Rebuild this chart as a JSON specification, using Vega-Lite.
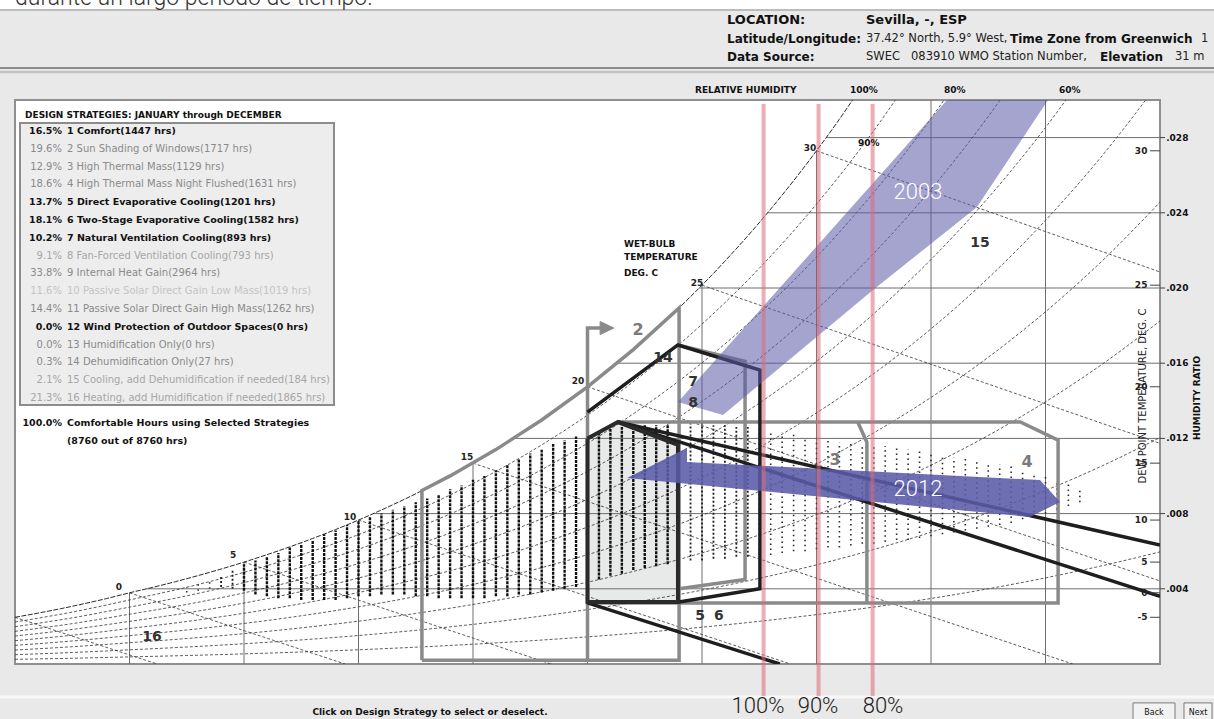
{
"$schema":"https://vega.github.io/schema/vega-lite/v6.json",
"width":1145,"height":564,"autosize":"none",
"padding":{"left":15,"top":100,"right":54,"bottom":55},
"background":"#e9e9e9",
"view":{"fill":"#ffffff","stroke":"#8f8f8f","strokeWidth":2},
"config":{"text":{"font":"DejaVu Sans"}},
"datasets":{
"vgrid":[{"T":0,"w0":0,"w1":0.003787},{"T":5,"w0":0,"w1":0.00542},{"T":10,"w0":0,"w1":0.007656},{"T":15,"w0":0,"w1":0.010684},{"T":20,"w0":0,"w1":0.014745},{"T":25,"w0":0,"w1":0.02015},{"T":30,"w0":0,"w1":0.027298},{"T":35,"w0":0,"w1":0.03},{"T":40,"w0":0,"w1":0.03}],
"hgrid":[{"w":0.004,"T0":0.745},{"w":0.008,"T0":10.64},{"w":0.012,"T0":16.78},{"w":0.016,"T0":21.3},{"w":0.02,"T0":24.88},{"w":0.024,"T0":27.86},{"w":0.028,"T0":30.42}],
"yticks":[{"w":0.004,"lab":".004"},{"w":0.008,"lab":".008"},{"w":0.012,"lab":".012"},{"w":0.016,"lab":".016"},{"w":0.02,"lab":".020"},{"w":0.024,"lab":".024"},{"w":0.028,"lab":".028"}],
"sat":[{"T":-5,"w":0.002484},{"T":-4,"w":0.002706},{"T":-3,"w":0.002943},{"T":-2,"w":0.003202},{"T":-1,"w":0.003482},{"T":0,"w":0.003787},{"T":1,"w":0.004073},{"T":2,"w":0.004378},{"T":3,"w":0.004704},{"T":4,"w":0.005051},{"T":5,"w":0.00542},{"T":6,"w":0.005814},{"T":7,"w":0.006233},{"T":8,"w":0.006678},{"T":9,"w":0.007152},{"T":10,"w":0.007656},{"T":11,"w":0.008191},{"T":12,"w":0.008759},{"T":13,"w":0.009364},{"T":14,"w":0.010004},{"T":15,"w":0.010684},{"T":16,"w":0.011404},{"T":17,"w":0.012168},{"T":18,"w":0.012978},{"T":19,"w":0.013837},{"T":20,"w":0.014745},{"T":21,"w":0.015708},{"T":22,"w":0.016726},{"T":23,"w":0.017804},{"T":24,"w":0.018944},{"T":25,"w":0.02015},{"T":26,"w":0.021426},{"T":27,"w":0.022774},{"T":28,"w":0.024199},{"T":29,"w":0.025706},{"T":30,"w":0.027298},{"T":31,"w":0.028979},{"T":31.575,"w":0.03}],
"rh":[
{"rh":90,"T":-5,"w":0.002234},{"rh":90,"T":-2.5,"w":0.002762},{"rh":90,"T":0,"w":0.003406},{"rh":90,"T":2.5,"w":0.004082},{"rh":90,"T":5,"w":0.004874},{"rh":90,"T":7.5,"w":0.005801},{"rh":90,"T":10,"w":0.006882},{"rh":90,"T":12.5,"w":0.008139},{"rh":90,"T":15,"w":0.009599},{"rh":90,"T":17.5,"w":0.011288},{"rh":90,"T":20,"w":0.013239},{"rh":90,"T":22.5,"w":0.015488},{"rh":90,"T":25,"w":0.018077},{"rh":90,"T":27.5,"w":0.021049},{"rh":90,"T":30,"w":0.024461},{"rh":90,"T":32.5,"w":0.028366},{"rh":90,"T":35,"w":0.032841},
{"rh":80,"T":-5,"w":0.001985},{"rh":80,"T":-2.5,"w":0.002454},{"rh":80,"T":0,"w":0.003026},{"rh":80,"T":2.5,"w":0.003626},{"rh":80,"T":5,"w":0.004329},{"rh":80,"T":7.5,"w":0.005151},{"rh":80,"T":10,"w":0.006109},{"rh":80,"T":12.5,"w":0.007224},{"rh":80,"T":15,"w":0.008518},{"rh":80,"T":17.5,"w":0.010013},{"rh":80,"T":20,"w":0.011741},{"rh":80,"T":22.5,"w":0.013729},{"rh":80,"T":25,"w":0.016016},{"rh":80,"T":27.5,"w":0.01864},{"rh":80,"T":30,"w":0.021648},{"rh":80,"T":32.5,"w":0.025088},{"rh":80,"T":35,"w":0.029021},{"rh":80,"T":37.5,"w":0.033511},
{"rh":70,"T":-5,"w":0.001737},{"rh":70,"T":-2.5,"w":0.002146},{"rh":70,"T":0,"w":0.002646},{"rh":70,"T":2.5,"w":0.00317},{"rh":70,"T":5,"w":0.003784},{"rh":70,"T":7.5,"w":0.004502},{"rh":70,"T":10,"w":0.005339},{"rh":70,"T":12.5,"w":0.006312},{"rh":70,"T":15,"w":0.00744},{"rh":70,"T":17.5,"w":0.008744},{"rh":70,"T":20,"w":0.010249},{"rh":70,"T":22.5,"w":0.01198},{"rh":70,"T":25,"w":0.013969},{"rh":70,"T":27.5,"w":0.016249},{"rh":70,"T":30,"w":0.01886},{"rh":70,"T":32.5,"w":0.021841},{"rh":70,"T":35,"w":0.025246},{"rh":70,"T":37.5,"w":0.029126},{"rh":70,"T":40,"w":0.033548},
{"rh":60,"T":-5,"w":0.001488},{"rh":60,"T":-2.5,"w":0.001838},{"rh":60,"T":0,"w":0.002267},{"rh":60,"T":2.5,"w":0.002715},{"rh":60,"T":5,"w":0.003241},{"rh":60,"T":7.5,"w":0.003855},{"rh":60,"T":10,"w":0.004571},{"rh":60,"T":12.5,"w":0.005402},{"rh":60,"T":15,"w":0.006366},{"rh":60,"T":17.5,"w":0.00748},{"rh":60,"T":20,"w":0.008764},{"rh":60,"T":22.5,"w":0.01024},{"rh":60,"T":25,"w":0.011935},{"rh":60,"T":27.5,"w":0.013876},{"rh":60,"T":30,"w":0.016096},{"rh":60,"T":32.5,"w":0.018628},{"rh":60,"T":35,"w":0.021515},{"rh":60,"T":37.5,"w":0.024799},{"rh":60,"T":40,"w":0.028535},{"rh":60,"T":42.5,"w":0.032775},
{"rh":50,"T":-5,"w":0.001239},{"rh":50,"T":-2.5,"w":0.001531},{"rh":50,"T":0,"w":0.001888},{"rh":50,"T":2.5,"w":0.002261},{"rh":50,"T":5,"w":0.002698},{"rh":50,"T":7.5,"w":0.003209},{"rh":50,"T":10,"w":0.003804},{"rh":50,"T":12.5,"w":0.004496},{"rh":50,"T":15,"w":0.005296},{"rh":50,"T":17.5,"w":0.006221},{"rh":50,"T":20,"w":0.007286},{"rh":50,"T":22.5,"w":0.00851},{"rh":50,"T":25,"w":0.009914},{"rh":50,"T":27.5,"w":0.01152},{"rh":50,"T":30,"w":0.013356},{"rh":50,"T":32.5,"w":0.015446},{"rh":50,"T":35,"w":0.017827},{"rh":50,"T":37.5,"w":0.02053},{"rh":50,"T":40,"w":0.023599},{"rh":50,"T":42.5,"w":0.027075},{"rh":50,"T":45,"w":0.031013},
{"rh":40,"T":-5,"w":0.000991},{"rh":40,"T":-2.5,"w":0.001224},{"rh":40,"T":0,"w":0.001509},{"rh":40,"T":2.5,"w":0.001808},{"rh":40,"T":5,"w":0.002157},{"rh":40,"T":7.5,"w":0.002565},{"rh":40,"T":10,"w":0.00304},{"rh":40,"T":12.5,"w":0.003591},{"rh":40,"T":15,"w":0.00423},{"rh":40,"T":17.5,"w":0.004967},{"rh":40,"T":20,"w":0.005815},{"rh":40,"T":22.5,"w":0.00679},{"rh":40,"T":25,"w":0.007906},{"rh":40,"T":27.5,"w":0.009182},{"rh":40,"T":30,"w":0.010639},{"rh":40,"T":32.5,"w":0.012296},{"rh":40,"T":35,"w":0.01418},{"rh":40,"T":37.5,"w":0.016316},{"rh":40,"T":40,"w":0.018737},{"rh":40,"T":42.5,"w":0.021473},{"rh":40,"T":45,"w":0.024565},
{"rh":30,"T":-5,"w":0.000743},{"rh":30,"T":-2.5,"w":0.000918},{"rh":30,"T":0,"w":0.001131},{"rh":30,"T":2.5,"w":0.001355},{"rh":30,"T":5,"w":0.001616},{"rh":30,"T":7.5,"w":0.001922},{"rh":30,"T":10,"w":0.002277},{"rh":30,"T":12.5,"w":0.00269},{"rh":30,"T":15,"w":0.003167},{"rh":30,"T":17.5,"w":0.003718},{"rh":30,"T":20,"w":0.004351},{"rh":30,"T":22.5,"w":0.005078},{"rh":30,"T":25,"w":0.005911},{"rh":30,"T":27.5,"w":0.006861},{"rh":30,"T":30,"w":0.007945},{"rh":30,"T":32.5,"w":0.009176},{"rh":30,"T":35,"w":0.010575},{"rh":30,"T":37.5,"w":0.012157},{"rh":30,"T":40,"w":0.013948},{"rh":30,"T":42.5,"w":0.015967},{"rh":30,"T":45,"w":0.018244},
{"rh":20,"T":-5,"w":0.000495},{"rh":20,"T":-2.5,"w":0.000612},{"rh":20,"T":0,"w":0.000754},{"rh":20,"T":2.5,"w":0.000903},{"rh":20,"T":5,"w":0.001077},{"rh":20,"T":7.5,"w":0.00128},{"rh":20,"T":10,"w":0.001516},{"rh":20,"T":12.5,"w":0.001791},{"rh":20,"T":15,"w":0.002108},{"rh":20,"T":17.5,"w":0.002473},{"rh":20,"T":20,"w":0.002894},{"rh":20,"T":22.5,"w":0.003376},{"rh":20,"T":25,"w":0.003928},{"rh":20,"T":27.5,"w":0.004557},{"rh":20,"T":30,"w":0.005274},{"rh":20,"T":32.5,"w":0.006088},{"rh":20,"T":35,"w":0.00701},{"rh":20,"T":37.5,"w":0.008052},{"rh":20,"T":40,"w":0.009229},{"rh":20,"T":42.5,"w":0.010554},{"rh":20,"T":45,"w":0.012045},
{"rh":10,"T":-5,"w":0.000248},{"rh":10,"T":-2.5,"w":0.000306},{"rh":10,"T":0,"w":0.000377},{"rh":10,"T":2.5,"w":0.000451},{"rh":10,"T":5,"w":0.000538},{"rh":10,"T":7.5,"w":0.000639},{"rh":10,"T":10,"w":0.000757},{"rh":10,"T":12.5,"w":0.000894},{"rh":10,"T":15,"w":0.001052},{"rh":10,"T":17.5,"w":0.001234},{"rh":10,"T":20,"w":0.001444},{"rh":10,"T":22.5,"w":0.001684},{"rh":10,"T":25,"w":0.001958},{"rh":10,"T":27.5,"w":0.00227},{"rh":10,"T":30,"w":0.002626},{"rh":10,"T":32.5,"w":0.003029},{"rh":10,"T":35,"w":0.003485},{"rh":10,"T":37.5,"w":0.004},{"rh":10,"T":40,"w":0.004581},{"rh":10,"T":42.5,"w":0.005233},{"rh":10,"T":45,"w":0.005965}],
"wb":[{"twb":-5,"T":-5,"w":0.002484},{"twb":-5,"T":1.2,"w":0},{"twb":0,"T":0,"w":0.003787},{"twb":0,"T":9.41,"w":0},{"twb":5,"T":5,"w":0.00542},{"twb":5,"T":18.41,"w":0},{"twb":10,"T":10,"w":0.007656},{"twb":10,"T":28.86,"w":0},{"twb":15,"T":15,"w":0.010684},{"twb":15,"T":41.19,"w":0},{"twb":20,"T":20,"w":0.014745},{"twb":20,"T":45,"w":0.004415},{"twb":25,"T":25,"w":0.02015},{"twb":25,"T":45,"w":0.011735},{"twb":30,"T":30,"w":0.027298},{"twb":30,"T":45,"w":0.020852}],
"cols":[
{"T":2.5,"lo":0.0038,"hi":0.0041,"d":"s"},{"T":3,"lo":0.0039,"hi":0.0043,"d":"s"},{"T":3.5,"lo":0.004,"hi":0.0045,"d":"s"},{"T":4,"lo":0.0041,"hi":0.0047,"d":"m"},{"T":4.5,"lo":0.004,"hi":0.005,"d":"m"},
{"T":5,"lo":0.0039,"hi":0.0053,"d":"d"},{"T":5.5,"lo":0.0037,"hi":0.0055,"d":"d"},{"T":6,"lo":0.0036,"hi":0.0057,"d":"d"},{"T":6.5,"lo":0.0035,"hi":0.0059,"d":"d"},{"T":7,"lo":0.0035,"hi":0.0062,"d":"d"},{"T":7.5,"lo":0.0034,"hi":0.0064,"d":"d"},{"T":8,"lo":0.0034,"hi":0.0066,"d":"d"},{"T":8.5,"lo":0.0034,"hi":0.0069,"d":"d"},{"T":9,"lo":0.0034,"hi":0.0071,"d":"d"},{"T":9.5,"lo":0.0035,"hi":0.0074,"d":"d"},{"T":10,"lo":0.0036,"hi":0.0076,"d":"d"},{"T":10.5,"lo":0.0036,"hi":0.0078,"d":"d"},{"T":11,"lo":0.0037,"hi":0.008,"d":"d"},{"T":11.5,"lo":0.0037,"hi":0.0082,"d":"d"},{"T":12,"lo":0.0037,"hi":0.0084,"d":"d"},{"T":12.5,"lo":0.0036,"hi":0.0086,"d":"d"},{"T":13,"lo":0.0036,"hi":0.0088,"d":"d"},{"T":13.5,"lo":0.0035,"hi":0.009,"d":"d"},{"T":14,"lo":0.0035,"hi":0.0093,"d":"d"},{"T":14.5,"lo":0.0035,"hi":0.0095,"d":"d"},{"T":15,"lo":0.0035,"hi":0.0098,"d":"d"},{"T":15.5,"lo":0.0035,"hi":0.01,"d":"d"},{"T":16,"lo":0.0036,"hi":0.0103,"d":"d"},{"T":16.5,"lo":0.0036,"hi":0.0106,"d":"d"},{"T":17,"lo":0.0037,"hi":0.0109,"d":"d"},{"T":17.5,"lo":0.0037,"hi":0.0112,"d":"d"},{"T":18,"lo":0.0038,"hi":0.0114,"d":"d"},{"T":18.5,"lo":0.0039,"hi":0.0117,"d":"d"},{"T":19,"lo":0.004,"hi":0.0119,"d":"d"},{"T":19.5,"lo":0.0041,"hi":0.0121,"d":"d"},{"T":20,"lo":0.0043,"hi":0.0123,"d":"d"},{"T":20.5,"lo":0.0045,"hi":0.0124,"d":"d"},{"T":21,"lo":0.0047,"hi":0.0125,"d":"d"},{"T":21.5,"lo":0.0048,"hi":0.0126,"d":"d"},{"T":22,"lo":0.005,"hi":0.0126,"d":"d"},{"T":22.5,"lo":0.0051,"hi":0.0127,"d":"d"},{"T":23,"lo":0.0052,"hi":0.0127,"d":"d"},{"T":23.5,"lo":0.0053,"hi":0.0127,"d":"d"},
{"T":24,"lo":0.0054,"hi":0.0127,"d":"m"},{"T":24.5,"lo":0.0055,"hi":0.0128,"d":"m"},{"T":25,"lo":0.0055,"hi":0.0128,"d":"m"},{"T":25.5,"lo":0.0056,"hi":0.0127,"d":"m"},{"T":26,"lo":0.0056,"hi":0.0127,"d":"m"},{"T":26.5,"lo":0.0057,"hi":0.0126,"d":"m"},{"T":27,"lo":0.0057,"hi":0.0126,"d":"m"},
{"T":27.5,"lo":0.0058,"hi":0.0125,"d":"s"},{"T":28,"lo":0.0058,"hi":0.0124,"d":"s"},{"T":28.5,"lo":0.0059,"hi":0.0123,"d":"s"},{"T":29,"lo":0.006,"hi":0.0122,"d":"s"},{"T":29.5,"lo":0.006,"hi":0.0121,"d":"s"},{"T":30,"lo":0.0061,"hi":0.012,"d":"s"},{"T":30.5,"lo":0.0062,"hi":0.0119,"d":"s"},{"T":31,"lo":0.0062,"hi":0.0118,"d":"s"},{"T":31.5,"lo":0.0063,"hi":0.0118,"d":"s"},{"T":32,"lo":0.0064,"hi":0.0117,"d":"s"},{"T":32.5,"lo":0.0064,"hi":0.0116,"d":"s"},{"T":33,"lo":0.0065,"hi":0.0116,"d":"s"},{"T":33.5,"lo":0.0066,"hi":0.0115,"d":"s"},{"T":34,"lo":0.0066,"hi":0.0114,"d":"s"},{"T":34.5,"lo":0.0067,"hi":0.0113,"d":"s"},{"T":35,"lo":0.0068,"hi":0.0112,"d":"s"},{"T":35.5,"lo":0.0069,"hi":0.0111,"d":"s"},{"T":36,"lo":0.007,"hi":0.011,"d":"s"},{"T":36.5,"lo":0.0071,"hi":0.0109,"d":"s"},{"T":37,"lo":0.0072,"hi":0.0108,"d":"s"},{"T":37.5,"lo":0.0073,"hi":0.0107,"d":"s"},{"T":38,"lo":0.0074,"hi":0.0106,"d":"s"},{"T":38.5,"lo":0.0075,"hi":0.0105,"d":"s"},{"T":39,"lo":0.0077,"hi":0.0103,"d":"s"},{"T":39.5,"lo":0.0078,"hi":0.0102,"d":"s"},{"T":40,"lo":0.008,"hi":0.01,"d":"s"},{"T":40.5,"lo":0.0082,"hi":0.0098,"d":"s"},{"T":41,"lo":0.0084,"hi":0.0096,"d":"s"},{"T":41.5,"lo":0.0086,"hi":0.0094,"d":"s"}],
"comfort":[{"i":0,"T":20,"w":0.012},{"i":1,"T":21.33,"w":0.01287},{"i":2,"T":23.95,"w":0.01165},{"i":3,"T":23.95,"w":0.0033},{"i":4,"T":20,"w":0.0033},{"i":5,"T":20,"w":0.012}],
"zgray":[
{"z":"z9","i":0,"T":12.77,"w":0.0002},{"z":"z9","i":1,"T":12.77,"w":0.009225},{"z":"z9","i":2,"T":14,"w":0.010004},{"z":"z9","i":3,"T":16,"w":0.011404},{"z":"z9","i":4,"T":18,"w":0.012978},{"z":"z9","i":5,"T":20,"w":0.014745},{"z":"z9","i":6,"T":22,"w":0.016726},{"z":"z9","i":7,"T":24,"w":0.018944},{"z":"z9","i":8,"T":24,"w":0.0002},{"z":"z9","i":9,"T":12.77,"w":0.0002},
{"z":"z2","i":0,"T":20,"w":0.0002},{"z":"z2","i":1,"T":20,"w":0.01787},{"z":"z2","i":2,"T":20.7,"w":0.01787},
{"z":"z4","i":0,"T":21.33,"w":0.01287},{"z":"z4","i":1,"T":38.9,"w":0.01287},{"z":"z4","i":2,"T":40.55,"w":0.01191},{"z":"z4","i":3,"T":40.55,"w":0.00325},{"z":"z4","i":4,"T":20,"w":0.00325},
{"z":"z3","i":0,"T":31.8,"w":0.01287},{"z":"z3","i":1,"T":32.2,"w":0.0118},{"z":"z3","i":2,"T":32.2,"w":0.00325},
{"z":"z8","i":0,"T":23.95,"w":0.01697},{"z":"z8","i":1,"T":26.88,"w":0.0161},{"z":"z8","i":2,"T":26.88,"w":0.0045},{"z":"z8","i":3,"T":24,"w":0.004}],
"arrow":[{"i":0,"T":20.55,"w":0.01822},{"i":1,"T":21.15,"w":0.01787},{"i":2,"T":20.55,"w":0.01752},{"i":3,"T":20.55,"w":0.01822}],
"zblack":[
{"z":"z7","i":0,"T":20,"w":0.0134},{"z":"z7","i":1,"T":23.95,"w":0.01697},{"z":"z7","i":2,"T":27.53,"w":0.01564},{"z":"z7","i":3,"T":27.53,"w":0.004},{"z":"z7","i":4,"T":24,"w":0.0033},
{"z":"e5","i":0,"T":21.33,"w":0.01287},{"z":"e5","i":1,"T":45,"w":0.00633},
{"z":"e6","i":0,"T":21.33,"w":0.01287},{"z":"e6","i":1,"T":45,"w":0.0036},
{"z":"e0","i":0,"T":20,"w":0.00325},{"z":"e0","i":1,"T":28.4,"w":0}],
"blue":[
{"yr":"2003","i":0,"T":23.952,"w":0.013936},{"yr":"2003","i":1,"T":35.699,"w":0.03},{"yr":"2003","i":2,"T":40.109,"w":0.03},{"yr":"2003","i":3,"T":37.009,"w":0.024308},{"yr":"2003","i":4,"T":32.467,"w":0.019893},{"yr":"2003","i":5,"T":25.917,"w":0.013245},
{"yr":"2012","i":0,"T":21.725,"w":0.009894},{"yr":"2012","i":1,"T":24.345,"w":0.011489},{"yr":"2012","i":2,"T":24.345,"w":0.010745},{"yr":"2012","i":3,"T":39.76,"w":0.009787},{"yr":"2012","i":4,"T":40.633,"w":0.008617},{"yr":"2012","i":5,"T":39.323,"w":0.007819}],
"red":[{"p":"100%","T":27.69},{"p":"90%","T":30.09},{"p":"80%","T":32.45}],
"dew":[{"td":"30","w":0.027298},{"td":"25","w":0.02015},{"td":"20","w":0.014745},{"td":"15","w":0.010684},{"td":"10","w":0.007656},{"td":"5","w":0.00542},{"td":"0","w":0.003787},{"td":"-5","w":0.002484}],
"legend":[
{"n":1,"pct":"16.5%","t":"1 Comfort(1447 hrs)","tone":"on","w":0.028351},
{"n":2,"pct":"19.6%","t":"2 Sun Shading of Windows(1717 hrs)","tone":"dim","w":0.027404},
{"n":3,"pct":"12.9%","t":"3 High Thermal Mass(1129 hrs)","tone":"dim","w":0.026458},
{"n":4,"pct":"18.6%","t":"4 High Thermal Mass Night Flushed(1631 hrs)","tone":"dim","w":0.025511},
{"n":5,"pct":"13.7%","t":"5 Direct Evaporative Cooling(1201 hrs)","tone":"on","w":0.024564},
{"n":6,"pct":"18.1%","t":"6 Two-Stage Evaporative Cooling(1582 hrs)","tone":"on","w":0.023617},
{"n":7,"pct":"10.2%","t":"7 Natural Ventilation Cooling(893 hrs)","tone":"on","w":0.02267},
{"n":8,"pct":"9.1%","t":"8 Fan-Forced Ventilation Cooling(793 hrs)","tone":"mid","w":0.021723},
{"n":9,"pct":"33.8%","t":"9 Internal Heat Gain(2964 hrs)","tone":"dim","w":0.020777},
{"n":10,"pct":"11.6%","t":"10 Passive Solar Direct Gain Low Mass(1019 hrs)","tone":"faint","w":0.01983},
{"n":11,"pct":"14.4%","t":"11 Passive Solar Direct Gain High Mass(1262 hrs)","tone":"dim","w":0.018883},
{"n":12,"pct":"0.0%","t":"12 Wind Protection of Outdoor Spaces(0 hrs)","tone":"on","w":0.017936},
{"n":13,"pct":"0.0%","t":"13 Humidification Only(0 hrs)","tone":"dim","w":0.016989},
{"n":14,"pct":"0.3%","t":"14 Dehumidification Only(27 hrs)","tone":"dim","w":0.016043},
{"n":15,"pct":"2.1%","t":"15 Cooling, add Dehumidification if needed(184 hrs)","tone":"mid","w":0.015096},
{"n":16,"pct":"21.3%","t":"16 Heating, add Humidification if needed(1865 hrs)","tone":"mid","w":0.014149},
{"n":17,"pct":"100.0%","t":"Comfortable Hours using Selected Strategies","tone":"on2","w":0.012819},
{"n":18,"pct":"","t":"(8760 out of 8760 hrs)","tone":"on2","w":0.011862}],
"labels":[
{"g":"top","T":-5,"w":0.03505,"t":"durante un largo período de tiempo."},
{"g":"hdrL","T":26.092,"w":0.034255,"t":"LOCATION:"},
{"g":"hdrL","T":32.162,"w":0.034255,"t":"Sevilla, -, ESP"},
{"g":"hdrB","T":26.092,"w":0.033244,"t":"Latitude/Longitude:"},
{"g":"hdrB","T":38.45,"w":0.033244,"t":"Time Zone from Greenwich"},
{"g":"hdrB","T":26.092,"w":0.032287,"t":"Data Source:"},
{"g":"hdrB","T":42.38,"w":0.032287,"t":"Elevation"},
{"g":"hdrN","T":32.162,"w":0.033244,"t":"37.42° North, 5.9° West,"},
{"g":"hdrN","T":46.79,"w":0.033244,"t":"1"},
{"g":"hdrN","T":32.162,"w":0.032287,"t":"SWEC"},
{"g":"hdrN","T":34.127,"w":0.032287,"t":"083910 WMO Station Number,"},
{"g":"hdrN","T":45.655,"w":0.032287,"t":"31 m"},
{"g":"small","T":24.694,"w":0.030532,"t":"RELATIVE HUMIDITY"},
{"g":"small","T":31.463,"w":0.030532,"t":"100%"},
{"g":"small","T":35.568,"w":0.030532,"t":"80%"},
{"g":"small","T":40.59,"w":0.030532,"t":"60%"},
{"g":"small","T":21.594,"w":0.02234,"t":"WET-BULB"},
{"g":"small","T":21.594,"w":0.021649,"t":"TEMPERATURE"},
{"g":"small","T":21.594,"w":0.020798,"t":"DEG. C"},
{"g":"small","T":31.812,"w":0.027713,"t":"90%"},
{"g":"small","T":-4.563,"w":0.029202,"t":"DESIGN STRATEGIES:  JANUARY through DECEMBER"},
{"g":"wbn","T":-0.459,"w":0.004096,"t":"0"},
{"g":"wbn","T":4.52,"w":0.005798,"t":"5"},
{"g":"wbn","T":9.629,"w":0.007819,"t":"10"},
{"g":"wbn","T":14.738,"w":0.011011,"t":"15"},
{"g":"wbn","T":19.585,"w":0.015053,"t":"20"},
{"g":"wbn","T":24.782,"w":0.020266,"t":"25"},
{"g":"wbn","T":29.716,"w":0.027447,"t":"30"},
{"g":"zgray","T":22.205,"w":0.017766,"t":"2"},
{"g":"zgray","T":30.808,"w":0.010851,"t":"3"},
{"g":"zgray","T":39.192,"w":0.010745,"t":"4"},
{"g":"zdark","T":23.297,"w":0.016277,"t":"14"},
{"g":"zdark","T":24.607,"w":0.015,"t":"7"},
{"g":"zdark","T":24.607,"w":0.013883,"t":"8"},
{"g":"zdark","T":37.14,"w":0.022394,"t":"15"},
{"g":"zdark","T":0.983,"w":0.001436,"t":"16"},
{"g":"zdark","T":24.913,"w":0.002553,"t":"5"},
{"g":"zdark","T":25.742,"w":0.002553,"t":"6"},
{"g":"redlab","T":27.445,"w":-0.002234,"t":"100%"},
{"g":"redlab","T":30.066,"w":-0.002234,"t":"90%"},
{"g":"redlab","T":32.904,"w":-0.002234,"t":"80%"},
{"g":"white","T":34.432,"w":0.025106,"t":"2003"},
{"g":"white","T":34.432,"w":0.009309,"t":"2012"},
{"g":"foot","T":13.122,"w":-0.002553,"t":"Click on Design Strategy to select or deselect."},
{"g":"btn","T":44.738,"w":-0.002606,"t":"Back"},
{"g":"btn","T":46.66,"w":-0.002606,"t":"Next"},
{"g":"dewt","T":44.258,"w":0.014255,"t":"DEW POINT TEMPERATURE, DEG. C"},
{"g":"hr","T":46.616,"w":0.014149,"t":"HUMIDITY RATIO"}],
"buttons":[{"b":"Back","T0":43.821,"T1":45.655},{"b":"Next","T0":46.048,"T1":47.271}],
"hrules":[{"k":"a","w":0.034787},{"k":"b","w":0.031702},{"k":"c","w":0.03149},{"k":"d","w":-0.001755}]
},
"layer":[
{"data":{"name":"vgrid"},"mark":{"type":"rule","stroke":"#6e6e6e","strokeWidth":1},
 "encoding":{
  "x":{"field":"T","type":"quantitative","scale":{"domain":[-5,45]},"axis":{"values":[-5,0,5,10,15,20,25,30,35,40,45],"ticks":false,"domain":false,"grid":false,"labelFont":"DejaVu Sans","labelFontSize":9,"labelFontWeight":"bold","labelColor":"#111","labelPadding":4,"labelFlush":false,"title":"DRY-BULB TEMPERATURE, DEG. C","titleFont":"DejaVu Sans","titleFontSize":9,"titleFontWeight":"bold","titleColor":"#111","titlePadding":5}},
  "y":{"field":"w0","type":"quantitative","scale":{"domain":[0,0.03]},"axis":null},
  "y2":{"field":"w1"}}},
{"data":{"values":[{"T0":-6,"T1":48,"w0":0.03475,"w1":0.036}]},"mark":{"type":"rect","fill":"#ffffff"},
 "encoding":{"x":{"field":"T0","type":"quantitative","scale":{"domain":[-5,45]},"axis":null},"x2":{"field":"T1"},"y":{"field":"w0","type":"quantitative","scale":{"domain":[0,0.03]},"axis":null},"y2":{"field":"w1"}}},
{"data":{"name":"hrules"},"mark":{"type":"rule"},
 "encoding":{"x":{"datum":-6,"type":"quantitative","scale":{"domain":[-5,45]},"axis":null},"x2":{"datum":48},"y":{"field":"w","type":"quantitative","scale":{"domain":[0,0.03]},"axis":null},
  "color":{"field":"k","type":"nominal","scale":{"domain":["a","b","c","d"],"range":["#a6a6a6","#8a8a8a","#c4c4c4","#f8f8f8"]},"legend":null},
  "size":{"field":"k","type":"ordinal","scale":{"domain":["a","b","c","d"],"range":[1.5,3,1.5,2]},"legend":null}}},
{"data":{"values":[{"T0":-4.782,"T1":8.93,"w0":0.013777,"w1":0.028776}]},"mark":{"type":"rect","fill":"#ededed","stroke":"#8c8c8c","strokeWidth":2},
 "encoding":{"x":{"field":"T0","type":"quantitative","scale":{"domain":[-5,45]},"axis":null},"x2":{"field":"T1"},"y":{"field":"w0","type":"quantitative","scale":{"domain":[0,0.03]},"axis":null},"y2":{"field":"w1"}}},
{"data":{"name":"comfort"},"mark":{"type":"line","fill":"#e8e9e9","strokeOpacity":0},
 "encoding":{"x":{"field":"T","type":"quantitative","scale":{"domain":[-5,45]},"axis":null},"y":{"field":"w","type":"quantitative","scale":{"domain":[0,0.03]},"axis":null},"order":{"field":"i","type":"quantitative"}}},
{"data":{"name":"hgrid"},"mark":{"type":"rule","stroke":"#6e6e6e","strokeWidth":1},
 "encoding":{"x":{"field":"T0","type":"quantitative","scale":{"domain":[-5,45]},"axis":null},"x2":{"datum":45},"y":{"field":"w","type":"quantitative","scale":{"domain":[0,0.03]},"axis":null}}},
{"data":{"name":"rh"},"mark":{"type":"line","stroke":"#333333","strokeWidth":0.8,"strokeDash":[3,2],"interpolate":"monotone","clip":true},
 "encoding":{"x":{"field":"T","type":"quantitative","scale":{"domain":[-5,45]},"axis":null},"y":{"field":"w","type":"quantitative","scale":{"domain":[0,0.03]},"axis":null},"detail":{"field":"rh","type":"nominal"}}},
{"data":{"name":"sat"},"mark":{"type":"line","stroke":"#2a2a2a","strokeWidth":1,"strokeDash":[5,1.5],"interpolate":"monotone","clip":true},
 "encoding":{"x":{"field":"T","type":"quantitative","scale":{"domain":[-5,45]},"axis":null},"y":{"field":"w","type":"quantitative","scale":{"domain":[0,0.03]},"axis":null}}},
{"data":{"name":"wb"},"mark":{"type":"line","stroke":"#333333","strokeWidth":0.8,"strokeDash":[3,2],"clip":true},
 "encoding":{"x":{"field":"T","type":"quantitative","scale":{"domain":[-5,45]},"axis":null},"y":{"field":"w","type":"quantitative","scale":{"domain":[0,0.03]},"axis":null},"detail":{"field":"twb","type":"nominal"}}},
{"data":{"name":"cols"},"transform":[{"filter":"datum.d==='d'"}],"mark":{"type":"rule","stroke":"#111111","strokeWidth":2.4,"strokeDash":[3,1]},
 "encoding":{"x":{"field":"T","type":"quantitative","scale":{"domain":[-5,45]},"axis":null},"y":{"field":"lo","type":"quantitative","scale":{"domain":[0,0.03]},"axis":null},"y2":{"field":"hi"}}},
{"data":{"name":"cols"},"transform":[{"filter":"datum.d==='m'"}],"mark":{"type":"rule","stroke":"#202020","strokeWidth":1.8,"strokeDash":[2,2]},
 "encoding":{"x":{"field":"T","type":"quantitative","scale":{"domain":[-5,45]},"axis":null},"y":{"field":"lo","type":"quantitative","scale":{"domain":[0,0.03]},"axis":null},"y2":{"field":"hi"}}},
{"data":{"name":"cols"},"transform":[{"filter":"datum.d==='s'"}],"mark":{"type":"rule","stroke":"#2a2a2a","strokeWidth":1.6,"strokeDash":[1.5,3.5]},
 "encoding":{"x":{"field":"T","type":"quantitative","scale":{"domain":[-5,45]},"axis":null},"y":{"field":"lo","type":"quantitative","scale":{"domain":[0,0.03]},"axis":null},"y2":{"field":"hi"}}},
{"data":{"name":"zgray"},"mark":{"type":"line","stroke":"#8a8a8a","strokeWidth":3.5,"clip":true},
 "encoding":{"x":{"field":"T","type":"quantitative","scale":{"domain":[-5,45]},"axis":null},"y":{"field":"w","type":"quantitative","scale":{"domain":[0,0.03]},"axis":null},"detail":{"field":"z","type":"nominal"},"order":{"field":"i","type":"quantitative"}}},
{"data":{"name":"arrow"},"mark":{"type":"line","fill":"#8a8a8a","stroke":"#8a8a8a","strokeWidth":1},
 "encoding":{"x":{"field":"T","type":"quantitative","scale":{"domain":[-5,45]},"axis":null},"y":{"field":"w","type":"quantitative","scale":{"domain":[0,0.03]},"axis":null},"order":{"field":"i","type":"quantitative"}}},
{"data":{"name":"zblack"},"mark":{"type":"line","stroke":"#1e1e1e","strokeWidth":3.5,"clip":true},
 "encoding":{"x":{"field":"T","type":"quantitative","scale":{"domain":[-5,45]},"axis":null},"y":{"field":"w","type":"quantitative","scale":{"domain":[0,0.03]},"axis":null},"detail":{"field":"z","type":"nominal"},"order":{"field":"i","type":"quantitative"}}},
{"data":{"name":"comfort"},"mark":{"type":"line","stroke":"#2a2a2a","strokeWidth":4},
 "encoding":{"x":{"field":"T","type":"quantitative","scale":{"domain":[-5,45]},"axis":null},"y":{"field":"w","type":"quantitative","scale":{"domain":[0,0.03]},"axis":null},"order":{"field":"i","type":"quantitative"}}},
{"data":{"name":"blue"},"mark":{"type":"line","fill":"#5a5aa8","strokeOpacity":0,"clip":true},
 "encoding":{"x":{"field":"T","type":"quantitative","scale":{"domain":[-5,45]},"axis":null},"y":{"field":"w","type":"quantitative","scale":{"domain":[0,0.03]},"axis":null},"detail":{"field":"yr","type":"nominal"},"order":{"field":"i","type":"quantitative"},
  "fillOpacity":{"field":"yr","type":"nominal","scale":{"domain":["2003","2012"],"range":[0.55,0.88]},"legend":null}}},
{"data":{"name":"red"},"mark":{"type":"rule","stroke":"#e06a74","strokeOpacity":0.55,"strokeWidth":4},
 "encoding":{"x":{"field":"T","type":"quantitative","scale":{"domain":[-5,45]},"axis":null},"y":{"datum":0.029787,"type":"quantitative","scale":{"domain":[0,0.03]},"axis":null},"y2":{"datum":-0.001702}}},
{"data":{"name":"dew"},"mark":{"type":"rule","stroke":"#444","strokeWidth":1},
 "encoding":{"x":{"datum":44.56,"type":"quantitative","scale":{"domain":[-5,45]},"axis":null},"x2":{"datum":45},"y":{"field":"w","type":"quantitative","scale":{"domain":[0,0.03]},"axis":null}}},
{"data":{"name":"dew"},"mark":{"type":"text","align":"right","baseline":"middle","fontSize":9,"fontWeight":"bold","color":"#222"},
 "encoding":{"x":{"datum":44.45,"type":"quantitative","scale":{"domain":[-5,45]},"axis":null},"y":{"field":"w","type":"quantitative","scale":{"domain":[0,0.03]},"axis":null},"text":{"field":"td"}}},
{"data":{"name":"yticks"},"mark":{"type":"rule","stroke":"#444","strokeWidth":1},
 "encoding":{"x":{"datum":45,"type":"quantitative","scale":{"domain":[-5,45]},"axis":null},"x2":{"datum":45.22},"y":{"field":"w","type":"quantitative","scale":{"domain":[0,0.03]},"axis":null}}},
{"data":{"name":"yticks"},"mark":{"type":"text","align":"left","baseline":"middle","fontSize":9,"fontWeight":"bold","color":"#111"},
 "encoding":{"x":{"datum":45.27,"type":"quantitative","scale":{"domain":[-5,45]},"axis":null},"y":{"field":"w","type":"quantitative","scale":{"domain":[0,0.03]},"axis":null},"text":{"field":"lab"}}},
{"data":{"name":"buttons"},"mark":{"type":"rect","fill":"#f2f2f2","stroke":"#7a7a7a","strokeWidth":1},
 "encoding":{"x":{"field":"T0","type":"quantitative","scale":{"domain":[-5,45]},"axis":null},"x2":{"field":"T1"},"y":{"datum":-0.00207,"type":"quantitative","scale":{"domain":[0,0.03]},"axis":null},"y2":{"datum":-0.0031}}},
{"data":{"name":"legend"},"transform":[{"filter":"datum.tone==='on' || datum.tone==='on2'"}],"mark":{"type":"text","align":"right","baseline":"middle","fontSize":9.5,"fontWeight":"bold","color":"#111"},
 "encoding":{"x":{"datum":-2.948,"type":"quantitative","scale":{"domain":[-5,45]},"axis":null},"y":{"field":"w","type":"quantitative","scale":{"domain":[0,0.03]},"axis":null},"text":{"field":"pct"}}},
{"data":{"name":"legend"},"transform":[{"filter":"datum.tone==='on' || datum.tone==='on2'"}],"mark":{"type":"text","align":"left","baseline":"middle","fontSize":9.5,"fontWeight":"bold","color":"#111"},
 "encoding":{"x":{"datum":-2.729,"type":"quantitative","scale":{"domain":[-5,45]},"axis":null},"y":{"field":"w","type":"quantitative","scale":{"domain":[0,0.03]},"axis":null},"text":{"field":"t"}}},
{"data":{"name":"legend"},"transform":[{"filter":"datum.tone!=='on' && datum.tone!=='on2'"}],"mark":{"type":"text","align":"right","baseline":"middle","fontSize":10},
 "encoding":{"x":{"datum":-2.948,"type":"quantitative","scale":{"domain":[-5,45]},"axis":null},"y":{"field":"w","type":"quantitative","scale":{"domain":[0,0.03]},"axis":null},"text":{"field":"pct"},
  "color":{"field":"tone","type":"nominal","scale":{"domain":["mid","dim","faint"],"range":["#505050","#8a8a8a","#c2c2c2"]},"legend":null}}},
{"data":{"name":"legend"},"transform":[{"filter":"datum.tone!=='on' && datum.tone!=='on2'"}],"mark":{"type":"text","align":"left","baseline":"middle","fontSize":10},
 "encoding":{"x":{"datum":-2.729,"type":"quantitative","scale":{"domain":[-5,45]},"axis":null},"y":{"field":"w","type":"quantitative","scale":{"domain":[0,0.03]},"axis":null},"text":{"field":"t"},
  "color":{"field":"tone","type":"nominal","scale":{"domain":["mid","dim","faint"],"range":["#505050","#8a8a8a","#c2c2c2"]},"legend":null}}},
{"data":{"name":"labels"},"transform":[{"filter":"datum.g==='top'"}],"mark":{"type":"text","align":"left","baseline":"alphabetic","fontSize":23,"font":"Roboto","fontWeight":300,"color":"#333"},
 "encoding":{"x":{"field":"T","type":"quantitative","scale":{"domain":[-5,45]},"axis":null},"y":{"field":"w","type":"quantitative","scale":{"domain":[0,0.03]},"axis":null},"text":{"field":"t"}}},
{"data":{"name":"labels"},"transform":[{"filter":"datum.g==='hdrL'"}],"mark":{"type":"text","align":"left","baseline":"middle","fontSize":13,"fontWeight":"bold","color":"#111"},
 "encoding":{"x":{"field":"T","type":"quantitative","scale":{"domain":[-5,45]},"axis":null},"y":{"field":"w","type":"quantitative","scale":{"domain":[0,0.03]},"axis":null},"text":{"field":"t"}}},
{"data":{"name":"labels"},"transform":[{"filter":"datum.g==='hdrB'"}],"mark":{"type":"text","align":"left","baseline":"middle","fontSize":12,"fontWeight":"bold","color":"#111"},
 "encoding":{"x":{"field":"T","type":"quantitative","scale":{"domain":[-5,45]},"axis":null},"y":{"field":"w","type":"quantitative","scale":{"domain":[0,0.03]},"axis":null},"text":{"field":"t"}}},
{"data":{"name":"labels"},"transform":[{"filter":"datum.g==='hdrN'"}],"mark":{"type":"text","align":"left","baseline":"middle","fontSize":11.5,"color":"#222"},
 "encoding":{"x":{"field":"T","type":"quantitative","scale":{"domain":[-5,45]},"axis":null},"y":{"field":"w","type":"quantitative","scale":{"domain":[0,0.03]},"axis":null},"text":{"field":"t"}}},
{"data":{"name":"labels"},"transform":[{"filter":"datum.g==='small'"}],"mark":{"type":"text","align":"left","baseline":"middle","fontSize":9,"fontWeight":"bold","color":"#111"},
 "encoding":{"x":{"field":"T","type":"quantitative","scale":{"domain":[-5,45]},"axis":null},"y":{"field":"w","type":"quantitative","scale":{"domain":[0,0.03]},"axis":null},"text":{"field":"t"}}},
{"data":{"name":"labels"},"transform":[{"filter":"datum.g==='wbn'"}],"mark":{"type":"text","align":"center","baseline":"middle","fontSize":9,"fontWeight":"bold","color":"#222"},
 "encoding":{"x":{"field":"T","type":"quantitative","scale":{"domain":[-5,45]},"axis":null},"y":{"field":"w","type":"quantitative","scale":{"domain":[0,0.03]},"axis":null},"text":{"field":"t"}}},
{"data":{"name":"labels"},"transform":[{"filter":"datum.g==='zgray'"}],"mark":{"type":"text","align":"center","baseline":"middle","fontSize":16,"fontWeight":"bold","color":"#7a7a7a"},
 "encoding":{"x":{"field":"T","type":"quantitative","scale":{"domain":[-5,45]},"axis":null},"y":{"field":"w","type":"quantitative","scale":{"domain":[0,0.03]},"axis":null},"text":{"field":"t"}}},
{"data":{"name":"labels"},"transform":[{"filter":"datum.g==='zdark'"}],"mark":{"type":"text","align":"center","baseline":"middle","fontSize":14,"fontWeight":"bold","color":"#333"},
 "encoding":{"x":{"field":"T","type":"quantitative","scale":{"domain":[-5,45]},"axis":null},"y":{"field":"w","type":"quantitative","scale":{"domain":[0,0.03]},"axis":null},"text":{"field":"t"}}},
{"data":{"name":"labels"},"transform":[{"filter":"datum.g==='redlab'"}],"mark":{"type":"text","align":"center","baseline":"middle","fontSize":22,"font":"Roboto","fontWeight":300,"color":"#1a1a1a"},
 "encoding":{"x":{"field":"T","type":"quantitative","scale":{"domain":[-5,45]},"axis":null},"y":{"field":"w","type":"quantitative","scale":{"domain":[0,0.03]},"axis":null},"text":{"field":"t"}}},
{"data":{"name":"labels"},"transform":[{"filter":"datum.g==='white'"}],"mark":{"type":"text","align":"center","baseline":"middle","fontSize":22,"font":"Roboto","fontWeight":300,"color":"#ffffff"},
 "encoding":{"x":{"field":"T","type":"quantitative","scale":{"domain":[-5,45]},"axis":null},"y":{"field":"w","type":"quantitative","scale":{"domain":[0,0.03]},"axis":null},"text":{"field":"t"}}},
{"data":{"name":"labels"},"transform":[{"filter":"datum.g==='foot'"}],"mark":{"type":"text","align":"center","baseline":"middle","fontSize":9,"fontWeight":"bold","color":"#111"},
 "encoding":{"x":{"field":"T","type":"quantitative","scale":{"domain":[-5,45]},"axis":null},"y":{"field":"w","type":"quantitative","scale":{"domain":[0,0.03]},"axis":null},"text":{"field":"t"}}},
{"data":{"name":"labels"},"transform":[{"filter":"datum.g==='btn'"}],"mark":{"type":"text","align":"center","baseline":"middle","fontSize":8,"color":"#111"},
 "encoding":{"x":{"field":"T","type":"quantitative","scale":{"domain":[-5,45]},"axis":null},"y":{"field":"w","type":"quantitative","scale":{"domain":[0,0.03]},"axis":null},"text":{"field":"t"}}},
{"data":{"name":"labels"},"transform":[{"filter":"datum.g==='dewt'"}],"mark":{"type":"text","align":"center","baseline":"middle","angle":270,"fontSize":10,"color":"#222"},
 "encoding":{"x":{"field":"T","type":"quantitative","scale":{"domain":[-5,45]},"axis":null},"y":{"field":"w","type":"quantitative","scale":{"domain":[0,0.03]},"axis":null},"text":{"field":"t"}}},
{"data":{"name":"labels"},"transform":[{"filter":"datum.g==='hr'"}],"mark":{"type":"text","align":"center","baseline":"middle","angle":270,"fontSize":9,"fontWeight":"bold","color":"#111"},
 "encoding":{"x":{"field":"T","type":"quantitative","scale":{"domain":[-5,45]},"axis":null},"y":{"field":"w","type":"quantitative","scale":{"domain":[0,0.03]},"axis":null},"text":{"field":"t"}}}
]
}
